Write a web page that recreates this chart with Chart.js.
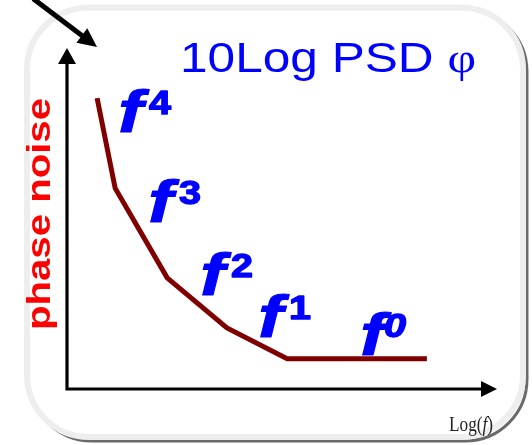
<!DOCTYPE html>
<html>
<head>
<meta charset="utf-8">
<script src="https://cdn.jsdelivr.net/npm/chart.js@4.4.1/dist/chart.umd.min.js"></script>
<style>
html,body{margin:0;padding:0;background:#fff;}
canvas{display:block;}
</style>
</head>
<body>
<canvas id="c" width="532" height="445"></canvas>
<script>
// ---- data ----
const titleMain = '10Log PSD ';
const titleSymbol = 'φ';
const yAxisLabel = 'phase noise';
const xAxisLabel = ['Log(', 'f', ')'];
const logF = [7, 11.2, 23.3, 37.2, 51.2, 83.7];
const phaseNoise = [85.3, 58.9, 32.6, 17.9, 8.9, 8.9];
const slopeExponents = ['4', '3', '2', '1', '0'];

// annotation anchors (data units) for the f^n labels
const slopeAnchorsX = [12.3, 19.3, 31.4, 44.9, 68.6];
const slopeAnchorsY = [75.4, 49.0, 27.6, 15.2, 10.0];

const SANS = '"Liberation Sans", Arial, sans-serif';
const SERIF = '"Liberation Serif", "Times New Roman", serif';

function drawParts(ctx, parts, x, y, target, rot, strokeW) {
  ctx.save();
  ctx.translate(x, y);
  if (rot) ctx.rotate(rot);
  ctx.textAlign = 'left';
  ctx.textBaseline = 'alphabetic';
  let total = 0;
  parts.forEach(p => { ctx.font = p.font; total += ctx.measureText(p.text).width; });
  const s = target ? target / total : 1;
  ctx.scale(s, 1);
  let cx = 0;
  parts.forEach(p => {
    ctx.font = p.font; ctx.fillStyle = p.color;
    ctx.fillText(p.text, cx, 0);
    if (strokeW) {
      ctx.strokeStyle = p.color; ctx.lineWidth = strokeW; ctx.lineJoin = 'round';
      ctx.strokeText(p.text, cx, 0);
    }
    cx += ctx.measureText(p.text).width;
  });
  ctx.restore();
}

function roundRect(ctx, x, y, w, h, r) {
  ctx.beginPath();
  ctx.moveTo(x + r, y);
  ctx.lineTo(x + w - r, y);
  ctx.arcTo(x + w, y, x + w, y + r, r);
  ctx.lineTo(x + w, y + h - r);
  ctx.arcTo(x + w, y + h, x + w - r, y + h, r);
  ctx.lineTo(x + r, y + h);
  ctx.arcTo(x, y + h, x, y + h - r, r);
  ctx.lineTo(x, y + r);
  ctx.arcTo(x, y, x + r, y, r);
  ctx.closePath();
}

function arrowHead(ctx, tipX, tipY, dx, dy, len, half) {
  const n = Math.hypot(dx, dy); const ux = dx / n, uy = dy / n;
  const bx = tipX - ux * len, by = tipY - uy * len;
  ctx.beginPath();
  ctx.moveTo(tipX, tipY);
  ctx.lineTo(bx - uy * half, by + ux * half);
  ctx.lineTo(bx + uy * half, by - ux * half);
  ctx.closePath();
  ctx.fill();
}

const decor = {
  id: 'decor',
  beforeDraw(chart) {
    const ctx = chart.ctx;
    ctx.save();
    ctx.fillStyle = '#fff';
    ctx.fillRect(0, 0, chart.width, chart.height);
    // shadow
    roundRect(ctx, 30, 10, 497, 431, 62);
    ctx.strokeStyle = '#6a6a6a';
    ctx.lineWidth = 3;
    ctx.stroke();
    // frame
    roundRect(ctx, 27, 7.5, 496, 429.5, 62);
    ctx.fillStyle = '#fff';
    ctx.fill();
    ctx.strokeStyle = '#eeeeee';
    ctx.lineWidth = 6;
    ctx.stroke();
    // pointer arrow top-left
    ctx.strokeStyle = '#000';
    ctx.fillStyle = '#000';
    const tx = 97, ty = 47, dx = 62, dy = 47;
    const n = Math.hypot(dx, dy);
    ctx.lineWidth = 5;
    ctx.beginPath();
    ctx.moveTo(tx - dx / n * 80, ty - dy / n * 80);
    ctx.lineTo(tx - dx / n * 14, ty - dy / n * 14);
    ctx.stroke();
    arrowHead(ctx, tx, ty, dx, dy, 19, 9);
    ctx.restore();
  },
  beforeDatasetsDraw(chart) {
    const ctx = chart.ctx, a = chart.chartArea;
    ctx.save();
    ctx.strokeStyle = '#000';
    ctx.fillStyle = '#000';
    ctx.lineWidth = 3.2;
    ctx.beginPath();
    ctx.moveTo(a.left, a.top + 12);
    ctx.lineTo(a.left, a.bottom);
    ctx.lineTo(a.right - 12, a.bottom);
    ctx.stroke();
    arrowHead(ctx, a.left, a.top, 0, -1, 16, 9);
    arrowHead(ctx, a.right, a.bottom, 1, 0, 16, 8);
    ctx.restore();
  },
  afterDraw(chart) {
    const ctx = chart.ctx;
    const xs = chart.scales.x, ys = chart.scales.y;
    // title
    drawParts(ctx, [
      { text: titleMain, font: '42px ' + SANS, color: '#0000ff' },
      { text: titleSymbol, font: '42px ' + SERIF, color: '#0000ff' }
    ], 180, 72, 296);
    // y label
    drawParts(ctx, [{ text: yAxisLabel, font: 'bold 34px ' + SANS, color: '#ff0000' }],
      50, 330, 232, -Math.PI / 2);
    // x label
    drawParts(ctx, [
      { text: xAxisLabel[0], font: '20px ' + SERIF, color: '#222' },
      { text: xAxisLabel[1], font: 'italic 20px ' + SERIF, color: '#222' },
      { text: xAxisLabel[2], font: '20px ' + SERIF, color: '#222' }
    ], 449, 431, 44);
    // slope labels
    slopeExponents.forEach((e, i) => {
      const px = xs.getPixelForValue(slopeAnchorsX[i]);
      const py = ys.getPixelForValue(slopeAnchorsY[i]);
      drawParts(ctx, [{ text: 'f', font: 'italic bold 60px ' + SANS, color: '#0000ff' }], px - 2, py, 25, 0, 1);
      const italic = e === '0';
      drawParts(ctx, [{ text: e, font: (italic ? 'italic ' : '') + 'bold 34px ' + SANS, color: '#0000ff' }],
        px + (italic ? 22 : 29), py - 18, 22, 0, 1.4);
    });
  }
};

new Chart(document.getElementById('c'), {
  type: 'line',
  data: {
    datasets: [{
      data: logF.map((v, i) => ({ x: v, y: phaseNoise[i] })),
      borderColor: '#800000',
      borderWidth: 5,
      borderCapStyle: 'butt',
      borderJoinStyle: 'miter',
      pointRadius: 0,
      tension: 0,
      fill: false,
      clip: false
    }]
  },
  options: {
    responsive: false,
    devicePixelRatio: 1,
    animation: false,
    layout: { padding: { left: 67, right: 35, top: 48, bottom: 56 } },
    scales: {
      x: { type: 'linear', min: 0, max: 100, display: false },
      y: { type: 'linear', min: 0, max: 100, display: false }
    },
    plugins: { legend: { display: false }, tooltip: { enabled: false } }
  },
  plugins: [decor]
});
</script>
</body>
</html>
